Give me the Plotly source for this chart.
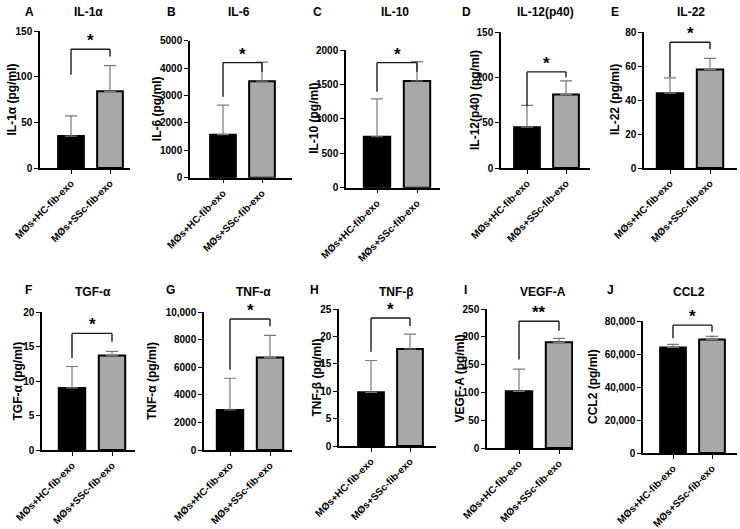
import plotly.graph_objects as go

# ---------------- data ----------------
categories = ["MØs+HC-fib-exo", "MØs+SSc-fib-exo"]
panel_letters = ["A", "B", "C", "D", "E", "F", "G", "H", "I", "J"]
panel_titles = ["IL-1α", "IL-6", "IL-10", "IL-12(p40)", "IL-22",
                "TGF-α", "TNF-α", "TNF-β", "VEGF-A", "CCL2"]
y_titles = ["IL-1α (pg/ml)", "IL-6 (pg/ml)", "IL-10 (pg/ml)", "IL-12(p40) (pg/ml)", "IL-22 (pg/ml)",
            "TGF-α (pg/ml)", "TNF-α (pg/ml)", "TNF-β (pg/ml)", "VEGF-A (pg/ml)", "CCL2 (pg/ml)"]

hc_mean = [35, 1570, 740, 45, 44, 9.0, 2900, 9.8, 102, 64000]
hc_sd = [22, 1080, 550, 24, 9, 3.1, 2300, 5.8, 40, 1800]
ssc_mean = [84, 3520, 1550, 81, 58, 13.7, 6700, 17.7, 190, 68800]
ssc_sd = [28, 700, 280, 15, 6.5, 0.6, 1600, 2.7, 7, 1900]

y_max = [150, 5000, 2000, 150, 80, 20, 10000, 25, 250, 80000]
y_tickvals = [
    [0, 50, 100, 150],
    [0, 1000, 2000, 3000, 4000, 5000],
    [0, 500, 1000, 1500, 2000],
    [0, 50, 100, 150],
    [0, 20, 40, 60, 80],
    [0, 5, 10, 15, 20],
    [0, 2000, 4000, 6000, 8000, 10000],
    [0, 5, 10, 15, 20, 25],
    [0, 50, 100, 150, 200, 250],
    [0, 20000, 40000, 60000, 80000],
]
y_ticktext = [
    ["0", "50", "100", "150"],
    ["0", "1000", "2000", "3000", "4000", "5000"],
    ["0", "500", "1000", "1500", "2000"],
    ["0", "50", "100", "150"],
    ["0", "20", "40", "60", "80"],
    ["0", "5", "10", "15", "20"],
    ["0", "2000", "4000", "6000", "8000", "10,000"],
    ["0", "5", "10", "15", "20", "25"],
    ["0", "50", "100", "150", "200", "250"],
    ["0", "20,000", "40,000", "60,000", "80,000"],
]

# significance brackets (values in data units)
bracket_top = [130, 4200, 1816, 106, 74, 16.9, 9490, 23.35, 228, 77500]
bracket_left_end = [102, 2956, 1393, 68, 53.5, 13.3, 5810, 17.2, 159, 69500]
bracket_right_end = [122, 3870, 1685, 100, 70, 15.7, 8960, 21.9, 211, 73500]
significance = ["*", "*", "*", "*", "*", "*", "*", "*", "**", "*"]

# ---------------- geometry (pixels) ----------------
W, H = 740, 529
# (y-axis x, x-axis end, top px, bottom px, tick0 px, tick1 px, y-title center x)
geom = [
    (40, 130, 31, 168, 71, 110, 11),
    (190, 292, 40.7, 177.7, 223, 262, 157),
    (346, 440, 50, 187.7, 377, 417, 314),
    (501, 590, 32, 168, 527, 566, 475),
    (644, 737, 32, 168, 670, 710, 615),
    (42, 135, 312, 450, 72, 112, 17.5),
    (204, 292, 312, 450, 230, 270, 152),
    (339, 436, 309, 446, 371, 410, 316),
    (487, 573, 309, 448, 519, 559, 459),
    (643, 737, 321, 453, 673, 712, 593),
]
letter_pos = [(29, 12), (171, 12), (317, 12), (466, 12), (615, 12),
              (28, 290), (170, 290), (314, 290), (465, 290), (610, 290)]
title_pos = [(88, 12), (239, 12), (395, 12), (545, 12), (691, 12),
             (93, 292), (253, 292), (397, 292), (543, 292), (689, 292)]

FONT = "Arial, Liberation Sans, sans-serif"
fig = go.Figure()
annotations = []
shapes = []

for i in range(10):
    x0, x1, top, bot, t0, t1, ytx = geom[i]
    s = t1 - t0
    xr = [-(t0 - x0) / s, 1 + (x1 - t1) / s]
    n = "" if i == 0 else str(i + 1)
    xa, ya = "x" + n, "y" + n
    fig.add_trace(go.Bar(
        x=categories, y=[hc_mean[i], ssc_mean[i]],
        xaxis=xa, yaxis=ya, width=0.66,
        marker=dict(color=["#000000", "#a8a8a8"], line=dict(color="#000000", width=2)),
        error_y=dict(type="data", symmetric=False, array=[hc_sd[i], ssc_sd[i]],
                     arrayminus=[0, 0], color="#7a7a7a", thickness=1.2, width=6),
        showlegend=False, hoverinfo="skip",
    ))
    xfont = dict(family=FONT, size=10, color="#000000", weight="bold")
    yfont = dict(family=FONT, size=10, color="#000000", weight="bold")
    fig.layout["xaxis" + n] = dict(
        domain=[x0 / W, x1 / W], anchor=ya, range=xr, type="category",
        showline=True, linecolor="#000000", linewidth=1.5,
        ticks="outside", ticklen=4, tickwidth=1.2, tickcolor="#000000",
        tickangle=-45, tickfont=xfont, showgrid=False, zeroline=False,
        fixedrange=True, automargin=False,
    )
    fig.layout["yaxis" + n] = dict(
        domain=[1 - bot / H, 1 - top / H], anchor=xa, range=[0, y_max[i]],
        showline=True, linecolor="#000000", linewidth=1.5,
        ticks="outside", ticklen=4, tickwidth=1.2, tickcolor="#000000",
        tickvals=y_tickvals[i], ticktext=y_ticktext[i], tickfont=yfont,
        showgrid=False, zeroline=False, fixedrange=True, automargin=False,
    )
    # y title
    annotations.append(dict(
        x=ytx / W, y=1 - (top + bot) / 2 / H, xref="paper", yref="paper",
        text=y_titles[i], textangle=-90, showarrow=False,
        xanchor="center", yanchor="middle",
        font=dict(family=FONT, size=12, color="#000000", weight="bold"),
    ))
    # letter and title
    lx, ly = letter_pos[i]
    annotations.append(dict(
        x=lx / W, y=1 - ly / H, xref="paper", yref="paper", text=panel_letters[i],
        showarrow=False, xanchor="center", yanchor="middle",
        font=dict(family=FONT, size=12, color="#000000", weight="bold"),
    ))
    tx, ty = title_pos[i]
    annotations.append(dict(
        x=tx / W, y=1 - ty / H, xref="paper", yref="paper", text=panel_titles[i],
        showarrow=False, xanchor="center", yanchor="middle",
        font=dict(family=FONT, size=12, color="#000000", weight="bold"),
    ))
    # bracket
    bl = dict(color="#1a1a1a", width=1.4)
    shapes.append(dict(type="line", xref=xa, yref=ya, x0=0, x1=0,
                       y0=bracket_left_end[i], y1=bracket_top[i], line=bl))
    shapes.append(dict(type="line", xref=xa, yref=ya, x0=0, x1=1,
                       y0=bracket_top[i], y1=bracket_top[i], line=bl))
    shapes.append(dict(type="line", xref=xa, yref=ya, x0=1, x1=1,
                       y0=bracket_right_end[i], y1=bracket_top[i], line=bl))
    annotations.append(dict(
        x=0.5, y=bracket_top[i], xref=xa, yref=ya, text=significance[i],
        showarrow=False, xanchor="center", yanchor="bottom", yshift=-3,
        font=dict(family=FONT, size=17, color="#000000", weight="bold"),
    ))

fig.update_layout(
    width=W, height=H, autosize=False,
    margin=dict(l=0, r=0, t=0, b=0),
    paper_bgcolor="#ffffff", plot_bgcolor="#ffffff",
    annotations=annotations, shapes=shapes,
    bargap=0.3,
)
fig.write_html("out.html", config={"displayModeBar": False},
               post_script="document.body.style.margin='0';document.body.style.padding='0';")
